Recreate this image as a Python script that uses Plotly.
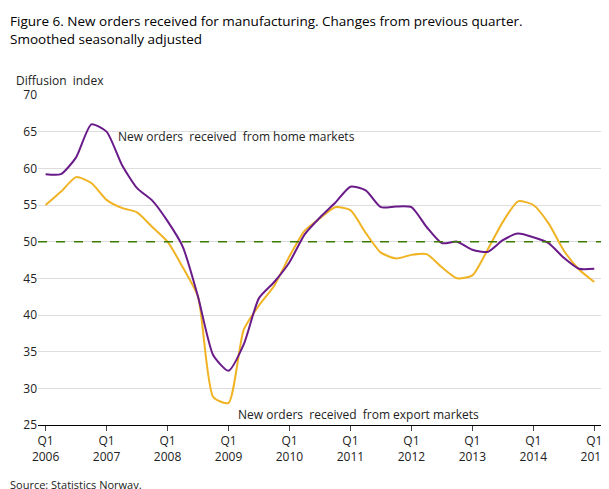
import plotly.graph_objects as go

home = [59.2,59.2,61.5,66,65,60.5,57.3,55.6,52.8,49.3,42.5,34.5,32.4,36,42.3,44.5,47.2,51,53.3,55.3,57.5,57,54.7,54.8,54.7,52,49.8,50,48.9,48.6,50.2,51.1,50.6,49.8,47.8,46.3,46.3]
export = [55,56.8,58.8,58,55.7,54.6,54,52,50,46.5,42.5,28.8,28,38,41.3,44,48,51.5,53.2,54.7,54.3,51.2,48.5,47.7,48.2,48.3,46.5,45,45.4,48.9,52.7,55.5,55,52.5,48.8,46.2,44.5]
years = list(range(2006, 2016))
tick_labels = [f"Q1<br>{y}" for y in years]
x = list(range(len(home)))

fig = go.Figure()
fig.add_trace(go.Scatter(x=x, y=export, mode="lines", line=dict(color="#f0b323", width=2, shape="spline", smoothing=0.6)))
fig.add_trace(go.Scatter(x=x, y=home, mode="lines", line=dict(color="#6a1b8a", width=2, shape="spline", smoothing=0.6)))
fig.add_shape(type="line", x0=-0.5, x1=36.9, y0=50, y1=50, line=dict(color="#3d7a00", width=1.5, dash="dash"))

fig.add_annotation(x=4.6, y=64.3, text="New orders  received  from home markets", showarrow=False, xanchor="left", font=dict(size=12, color="#222"))
fig.add_annotation(x=-1.1, y=46.2, text="Turning  point value", showarrow=False, xanchor="left", font=dict(size=12, color="#222"))
fig.add_annotation(x=12.5, y=26.5, text="New orders  received  from export markets", showarrow=False, xanchor="left", font=dict(size=12, color="#222"))
fig.add_annotation(x=0, y=1, xref="paper", yref="paper", xshift=-24, yshift=4, text="Diffusion  index", showarrow=False, xanchor="left", yanchor="bottom", font=dict(size=12, color="#222"))
fig.add_annotation(x=0, y=0, xref="paper", yref="paper", xshift=-30, yshift=-50, text="Source: Statistics Norway.", showarrow=False, xanchor="left", yanchor="top", font=dict(size=11, color="#222"))
fig.add_annotation(x=0, y=1, xref="paper", yref="paper", xshift=-30, yshift=85,
                   text="Figure 6. New orders received for manufacturing. Changes from previous quarter.<br>Smoothed seasonally adjusted",
                   showarrow=False, xanchor="left", yanchor="top", align="left", font=dict(size=13.5, color="#000"))

fig.update_layout(
    width=609, height=489,
    margin=dict(l=30, r=9, t=87, b=72),
    paper_bgcolor="white", plot_bgcolor="white",
    showlegend=False,
    font=dict(family="Open Sans", size=12, color="#222"),
    xaxis=dict(range=[-0.5, 36.9], tickvals=[i*4 for i in range(10)], ticktext=tick_labels, automargin=False,
               showgrid=False, showline=True, linecolor="#000", ticks="outside", ticklen=5, zeroline=False),
    yaxis=dict(range=[25, 70], dtick=5, showgrid=True, gridcolor="#ddd", zeroline=False, showline=False, ticks="", automargin=False),
)
fig.write_html("out.html")
